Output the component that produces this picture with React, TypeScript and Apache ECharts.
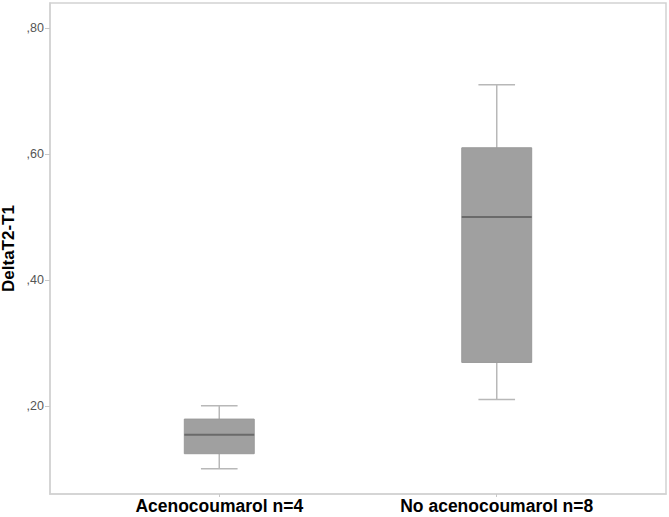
import React, { useEffect, useRef } from "react";
import * as echarts from "echarts";

const categories = ["Acenocoumarol n=4", "No acenocoumarol n=8"];
const whiskerLow = [0.1, 0.21];
const q1 = [0.124, 0.269];
const median = [0.154, 0.5];
const q3 = [0.179, 0.61];
const whiskerHigh = [0.2, 0.71];
const yTicks = [0.2, 0.4, 0.6, 0.8];
const xPositions = [1, 2];

export default function App() {
  const ref = useRef<HTMLDivElement>(null);
  useEffect(() => {
    if (!ref.current) return;
    const chart = echarts.init(ref.current, null, { renderer: "svg" });
    const data = categories.map((_, i) => [xPositions[i], whiskerLow[i], q1[i], median[i], q3[i], whiskerHigh[i]]);
    const boxHalf = 0.126;
    const capHalf = 0.066;
    chart.setOption({
      animation: false,
      backgroundColor: "#ffffff",
      grid: {
        left: 50,
        right: 3,
        top: 3,
        bottom: 23,
        containLabel: false,
        outerBoundsMode: "none",
        show: true,
        borderColor: "#d2d2d2",
        borderWidth: 1.5,
      },
      xAxis: {
        type: "value",
        min: 0.39,
        max: 2.61,
        splitLine: { show: false },
        axisLine: { show: true, lineStyle: { color: "#d2d2d2", width: 1.5 } },
        axisTick: { show: true, customValues: xPositions, length: 3, lineStyle: { color: "#c8c8c8" } },
        axisLabel: {
          customValues: xPositions,
          formatter: (v: number) => categories[Math.round(v) - 1] ?? "",
          color: "#000",
          fontFamily: "Liberation Sans, Arial, sans-serif",
          fontWeight: "bold",
          fontSize: 17.5,
          lineHeight: 17,
          margin: 3,
        },
      },
      yAxis: {
        type: "value",
        min: 0.06,
        max: 0.84,
        name: "DeltaT2-T1",
        nameLocation: "middle",
        nameGap: 33,
        nameMoveOverlap: false,
        nameTextStyle: {
          color: "#000",
          fontFamily: "Liberation Sans, Arial, sans-serif",
          fontWeight: "bold",
          fontSize: 17,
          lineHeight: 17,
        },
        splitLine: { show: false },
        axisLine: { show: true, lineStyle: { color: "#d2d2d2", width: 1.5 } },
        axisTick: { show: true, customValues: yTicks, length: 5, lineStyle: { color: "#c8c8c8" } },
        axisLabel: {
          customValues: yTicks,
          formatter: (v: number) => "," + v.toFixed(2).split(".")[1],
          color: "#555",
          fontFamily: "Liberation Sans, Arial, sans-serif",
          fontSize: 12.5,
          margin: 6,
        },
      },
      series: [
        {
          type: "custom",
          data,
          encode: { x: 0, y: [1, 2, 3, 4, 5] },
          renderItem: (params: any, api: any) => {
            const x = api.value(0);
            const lo = api.value(1);
            const b1 = api.value(2);
            const md = api.value(3);
            const b3 = api.value(4);
            const hi = api.value(5);
            const pLoL = api.coord([x - capHalf, lo]);
            const pLoR = api.coord([x + capHalf, lo]);
            const pHiL = api.coord([x - capHalf, hi]);
            const pHiR = api.coord([x + capHalf, hi]);
            const c = api.coord([x, lo]);
            const cHi = api.coord([x, hi]);
            const bTL = api.coord([x - boxHalf, b3]);
            const bBR = api.coord([x + boxHalf, b1]);
            const mL = api.coord([x - boxHalf, md]);
            const mR = api.coord([x + boxHalf, md]);
            const cB1 = api.coord([x, b1]);
            const cB3 = api.coord([x, b3]);
            const wStyle = { stroke: "#b8b8b8", lineWidth: 1.5 };
            return {
              type: "group",
              children: [
                { type: "line", shape: { x1: c[0], y1: c[1], x2: cB1[0], y2: cB1[1] }, style: wStyle },
                { type: "line", shape: { x1: cHi[0], y1: cHi[1], x2: cB3[0], y2: cB3[1] }, style: wStyle },
                { type: "line", shape: { x1: pLoL[0], y1: pLoL[1], x2: pLoR[0], y2: pLoR[1] }, style: wStyle },
                { type: "line", shape: { x1: pHiL[0], y1: pHiL[1], x2: pHiR[0], y2: pHiR[1] }, style: wStyle },
                {
                  type: "rect",
                  shape: { x: bTL[0], y: bTL[1], width: bBR[0] - bTL[0], height: bBR[1] - bTL[1] },
                  style: { fill: "#a0a0a0", stroke: "#999999", lineWidth: 1 },
                },
                { type: "line", shape: { x1: mL[0], y1: mL[1], x2: mR[0], y2: mR[1] }, style: { stroke: "#6a6a6a", lineWidth: 2 } },
              ],
            };
          },
        },
      ],
    });
    return () => chart.dispose();
  }, []);
  return <div ref={ref} style={{ position: "fixed", left: 0, top: 0, width: 669, height: 517 }} />;
}
